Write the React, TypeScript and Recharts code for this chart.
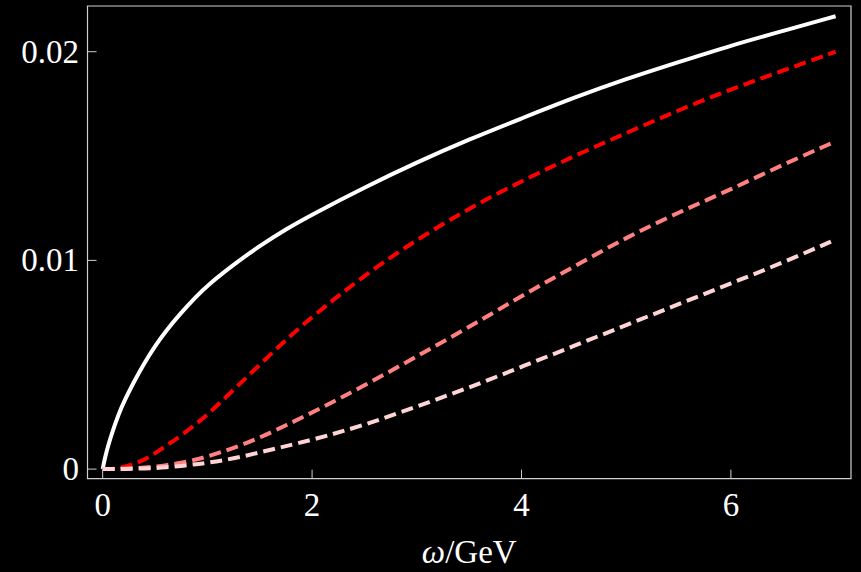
import React from "react";
import { LineChart, Line, XAxis, YAxis, ReferenceArea } from "recharts";

const omega = [0, 0.02, 0.05, 0.1, 0.15, 0.2, 0.3, 0.4, 0.5, 0.6, 0.75, 0.9, 1, 1.25, 1.5, 1.75, 2, 2.5, 3, 3.5, 4, 4.5, 5, 5.5, 6, 6.5, 7];
const whiteSeries = [0, 0.0005, 0.0011, 0.0019, 0.0026, 0.0032, 0.0042, 0.0051, 0.0059, 0.0066, 0.0075, 0.0083, 0.0088, 0.0098, 0.0107, 0.0115, 0.0122, 0.0135, 0.0147, 0.0158, 0.0168, 0.0178, 0.0187, 0.0195, 0.0203, 0.021, 0.0217];
const redSeries = [0, 0, 0, 0.00002, 0.00005, 0.0001, 0.00025, 0.00045, 0.00075, 0.0011, 0.0016, 0.0022, 0.0026, 0.0038, 0.005, 0.0062, 0.0073, 0.0093, 0.011, 0.0125, 0.0138, 0.015, 0.0161, 0.0172, 0.0182, 0.0191, 0.02];
const salmonSeries = [0, 0, 0, 0, 0.00001, 0.00002, 0.00004, 0.00008, 0.00012, 0.00018, 0.0003, 0.00047, 0.0006, 0.001, 0.0015, 0.0021, 0.0027, 0.004, 0.0054, 0.0068, 0.0083, 0.0097, 0.0111, 0.0123, 0.0134, 0.0146, 0.0157];
const paleSeries = [0, 0, 0, 0, 0, 0.00001, 0.00002, 0.00003, 0.00005, 0.00008, 0.00015, 0.00024, 0.0003, 0.0005, 0.0008, 0.0011, 0.0014, 0.0021, 0.003, 0.0039, 0.0049, 0.0059, 0.0069, 0.0079, 0.0089, 0.0099, 0.011];

const xTicks = [0, 2, 4, 6];
const yTicks = [0, 0.01, 0.02];
const xDomain = [-0.145, 7.147];
const yDomain = [-0.00046, 0.02219];

const data = omega.map((w, i) => ({
  w,
  white: whiteSeries[i],
  red: redSeries[i],
  salmon: salmonSeries[i],
  pale: paleSeries[i],
}));

const FONT = "'Liberation Serif', 'Times New Roman', serif";
const FRAME = "#cfcfcf";

const XTick = (props: any) => {
  const { x, y, payload } = props;
  return (
    <g>
      <line x1={x} x2={x} y1={y} y2={y - 9} stroke={FRAME} strokeWidth={1} />
      <text x={x} y={y + 37} textAnchor="middle" fill="#ffffff" fontFamily={FONT} fontSize={33}>
        {String(payload.value)}
      </text>
    </g>
  );
};

const YTick = (props: any) => {
  const { x, y, payload } = props;
  return (
    <g>
      <line x1={x} x2={x + 9} y1={y} y2={y} stroke={FRAME} strokeWidth={1} />
      <text x={x - 8.5} y={y + 11} textAnchor="end" fill="#ffffff" fontFamily={FONT} fontSize={33}>
        {String(payload.value)}
      </text>
    </g>
  );
};

const XLabel = (props: any) => {
  const vb = props.viewBox || { x: 87.5, y: 478.7, width: 763.5, height: 93 };
  return (
    <text x={vb.x + vb.width / 2} y={vb.y + 84} textAnchor="middle" fill="#ffffff" fontFamily={FONT} fontSize={33}>
      <tspan fontStyle="italic">ω</tspan>
      <tspan>/GeV</tspan>
    </text>
  );
};

export default function App() {
  return (
    <div style={{ position: "absolute", left: 0, top: 0, width: 861, height: 572, background: "#000" }}>
      <LineChart width={861} height={572} data={data} margin={{ top: 6, right: 10, left: 0, bottom: 0 }}>
        <XAxis
          dataKey="w"
          type="number"
          domain={xDomain}
          ticks={xTicks}
          allowDataOverflow
          axisLine={false}
          tickLine={false}
          tickSize={0}
          tickMargin={0}
          height={93.3}
          tick={<XTick />}
          label={<XLabel />}
          interval={0}
        />
        <YAxis
          type="number"
          domain={yDomain}
          ticks={yTicks}
          allowDataOverflow
          axisLine={false}
          tickLine={false}
          tickSize={0}
          tickMargin={0}
          width={87.5}
          tick={<YTick />}
          interval={0}
        />
        <ReferenceArea
          x1={xDomain[0]}
          x2={xDomain[1]}
          y1={yDomain[0]}
          y2={yDomain[1]}
          fill="none"
          fillOpacity={0}
          stroke={FRAME}
          strokeWidth={1.2}
        />
        <Line type="basis" dataKey="white" stroke="#ffffff" strokeWidth={4} dot={false} isAnimationActive={false} />
        <Line type="basis" dataKey="red" stroke="#ff0000" strokeWidth={4} strokeDasharray="12 6" dot={false} isAnimationActive={false} />
        <Line type="basis" dataKey="salmon" stroke="#ff8080" strokeWidth={4} strokeDasharray="12 6" dot={false} isAnimationActive={false} />
        <Line type="basis" dataKey="pale" stroke="#ffd4d4" strokeWidth={4} strokeDasharray="12 6" dot={false} isAnimationActive={false} />
      </LineChart>
    </div>
  );
}
